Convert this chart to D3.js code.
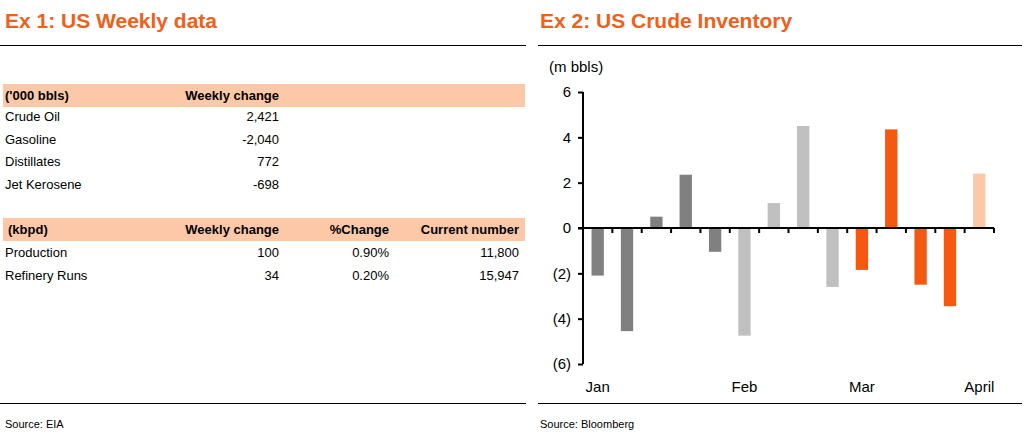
<!DOCTYPE html>
<html><head><meta charset="utf-8">
<script src="https://cdn.jsdelivr.net/npm/d3@7"></script>
<style>body{margin:0;background:#fff}svg{font-family:"Liberation Sans",Arial,sans-serif}</style>
</head><body><svg id="c" width="1024" height="435"></svg>
<script>
const stockRows = ["Crude Oil","Gasoline","Distillates","Jet Kerosene"];
const stockChange = ["2,421","-2,040","772","-698"];
const flowRows = ["Production","Refinery Runs"];
const flowChange = ["100","34"];
const flowPct = ["0.90%","0.20%"];
const flowCurrent = ["11,800","15,947"];
const weeks = d3.range(14);
const inventory = [-2.1,-4.55,0.5,2.35,-1.05,-4.75,1.1,4.5,-2.6,-1.85,4.35,-2.5,-3.45,2.4];
const barGroup = ["Jan","Jan","Jan","Jan","Jan","Feb","Feb","Feb","Feb","Mar","Mar","Mar","Mar","Apr"];
const monthLabels = [["Jan",0],["Feb",5],["Mar",9],["April",13]];
const yTicks = [6,4,2,0,-2,-4,-6];

const svg = d3.select("#c");
const orange = "#f0601a";
svg.append("text").attr("x",5).attr("y",28).attr("fill",orange).attr("font-size",21).attr("font-weight","bold").text("Ex 1: US Weekly data");
svg.append("text").attr("x",540).attr("y",28).attr("fill",orange).attr("font-size",21).attr("font-weight","bold").text("Ex 2: US Crude Inventory");
[[0,526],[538,1022]].forEach(([a,b])=>{
  svg.append("line").attr("x1",a).attr("x2",b).attr("y1",45.5).attr("y2",45.5).attr("stroke","#000");
  svg.append("line").attr("x1",a).attr("x2",b).attr("y1",403.5).attr("y2",403.5).attr("stroke","#000");
});
svg.append("text").attr("x",5).attr("y",428).attr("font-size",11).text("Source: EIA");
svg.append("text").attr("x",540).attr("y",428).attr("font-size",11).text("Source: Bloomberg");

const fs=13;
function header(y, cells){
  svg.append("rect").attr("x",3).attr("y",y).attr("width",522).attr("height",23).attr("fill","#fcc8a8");
  cells.forEach(([t,x,anchor])=>svg.append("text").attr("x",x).attr("y",y+16).attr("font-size",fs).attr("font-weight","bold").attr("text-anchor",anchor).text(t));
}
header(84,[["('000 bbls)",5,"start"],["Weekly change",279,"end"]]);
stockRows.forEach((r,i)=>{
  const y=121+i*22.5;
  svg.append("text").attr("x",5).attr("y",y).attr("font-size",fs).text(r);
  svg.append("text").attr("x",279).attr("y",y).attr("font-size",fs).attr("text-anchor","end").text(stockChange[i]);
});
header(218,[["(kbpd)",8,"start"],["Weekly change",279,"end"],["%Change",389,"end"],["Current number",519,"end"]]);
flowRows.forEach((r,i)=>{
  const y=257+i*22.5;
  svg.append("text").attr("x",5).attr("y",y).attr("font-size",fs).text(r);
  svg.append("text").attr("x",279).attr("y",y).attr("font-size",fs).attr("text-anchor","end").text(flowChange[i]);
  svg.append("text").attr("x",389).attr("y",y).attr("font-size",fs).attr("text-anchor","end").text(flowPct[i]);
  svg.append("text").attr("x",519).attr("y",y).attr("font-size",fs).attr("text-anchor","end").text(flowCurrent[i]);
});

const x = d3.scaleBand().domain(weeks).range([583,994]).paddingInner(0.58).paddingOuter(0.29);
const y = d3.scaleLinear().domain([-6,6]).range([364,92]);
const colors = {Jan:"#808080",Feb:"#c0c0c0",Mar:"#f4590f",Apr:"#fbc8aa"};
svg.append("g").selectAll("rect").data(weeks).join("rect")
  .attr("x",d=>x(d)).attr("width",x.bandwidth())
  .attr("y",d=>y(Math.max(0,inventory[d]))).attr("height",d=>Math.abs(y(inventory[d])-y(0)))
  .attr("fill",d=>colors[barGroup[d]]);
const ya = svg.append("g").attr("transform","translate(583,0)")
  .call(d3.axisLeft(y).tickValues(yTicks).tickSize(5).tickFormat(d=>d<0?`(${-d})`:d));
ya.select(".domain").attr("stroke-width",2).attr("d","M0,92V364");
ya.selectAll("line").attr("stroke-width",2);
ya.selectAll("text").attr("font-size",15).attr("font-family","Liberation Sans, Arial").attr("dx",-4);
const bounds = d3.range(1,15).map(i=>583+ i*(411/14));
svg.append("line").attr("x1",578).attr("x2",994).attr("y1",y(0)).attr("y2",y(0)).attr("stroke","#000").attr("stroke-width",2);
svg.append("g").selectAll("line").data(bounds).join("line")
  .attr("x1",d=>d).attr("x2",d=>d).attr("y1",y(0)).attr("y2",y(0)+5).attr("stroke","#000").attr("stroke-width",2);
svg.append("text").attr("x",549).attr("y",72).attr("font-size",15).text("(m  bbls)");
svg.append("g").selectAll("text").data(monthLabels).join("text")
  .attr("x",d=>x(d[1])+x.bandwidth()/2).attr("y",392).attr("text-anchor","middle").attr("font-size",15).text(d=>d[0]);
</script></body></html>
